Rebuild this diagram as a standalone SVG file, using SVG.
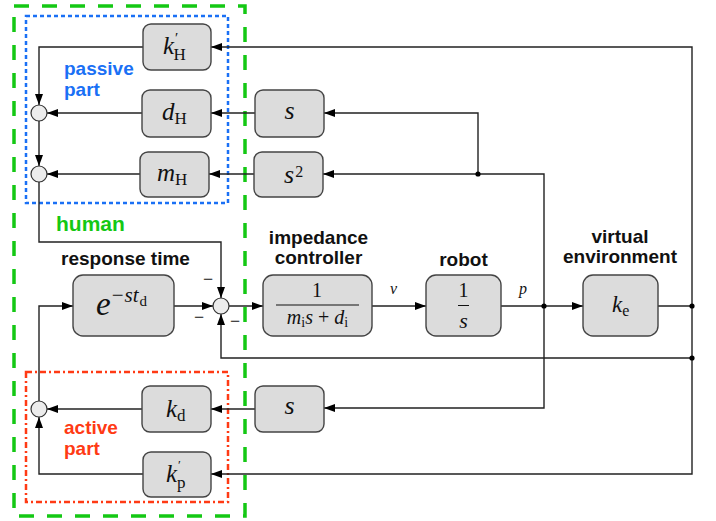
<svg xmlns="http://www.w3.org/2000/svg" width="716" height="521" viewBox="0 0 716 521">
  <defs>
    <marker id="arr" markerUnits="userSpaceOnUse" markerWidth="11" markerHeight="8" refX="11" refY="4" orient="auto">
      <path d="M0,0 L11,4 L0,8 z" fill="#000"/>
    </marker>
    <style>
      .blk { fill: #dcdcdc; stroke: #444; stroke-width: 1.4; }
      .sum { fill: #ececec; stroke: #333; stroke-width: 1.2; }
      .wire { fill: none; stroke: #222; stroke-width: 1.4; }
      .arrow { marker-end: url(#arr); }
      .dot { fill: #000; }
      .title { font-family: "Liberation Sans", Arial, sans-serif; font-weight: bold; font-size: 19px; fill: #111; text-anchor: middle; }
      .grp { font-family: "Liberation Sans", Arial, sans-serif; font-weight: bold; font-size: 19px; }
      .m { font-family: "Liberation Serif", "DejaVu Serif", serif; fill: #111; }
      .i { font-style: italic; }
      .frame-h { fill: none; stroke: #14c814; stroke-width: 3.5; stroke-dasharray: 15 13; }
      .frame-p { fill: none; stroke: #1a70f5; stroke-width: 2.5; stroke-dasharray: 4 3; }
      .frame-a { fill: none; stroke: #ff3a14; stroke-width: 2.5; stroke-dasharray: 6 3 2 3; }
    </style>
  </defs>

  <rect width="716" height="521" fill="#fff"/>

  <!-- grouping frames -->
  <g id="frames">
    <rect class="frame-h" x="14" y="6" width="231" height="510"/>
    <rect class="frame-p" x="26" y="16" width="202" height="187"/>
    <rect class="frame-a" x="26" y="372" width="202" height="130"/>
    <text class="grp" x="56" y="231" fill="#14c814" style="font-size:21px">human</text>
    <text class="grp" x="64" y="75" fill="#1a70f5">passive</text>
    <text class="grp" x="64" y="96" fill="#1a70f5">part</text>
    <text class="grp" x="64" y="434" fill="#ff3a14">active</text>
    <text class="grp" x="64" y="455" fill="#ff3a14">part</text>
  </g>

  <!-- connectors -->
  <g id="connectors">
    <path class="wire arrow" d="M692,306 V47 H211"/>
    <path class="wire arrow" d="M692,306 V474 H211"/>
    <path class="wire arrow" d="M143,47 H39 V105"/>
    <path class="wire arrow" d="M142,113 H47"/>
    <path class="wire arrow" d="M255,113 H211"/>
    <path class="wire arrow" d="M478,174 V113 H324"/>
    <path class="wire arrow" d="M544,306 V174 H323"/>
    <path class="wire arrow" d="M254,174 H209"/>
    <path class="wire arrow" d="M140,174 H47"/>
    <path class="wire arrow" d="M39,121 V166"/>
    <path class="wire arrow" d="M39,182 V242 H221 V298"/>
    <path class="wire arrow" d="M39,401 V306 H73"/>
    <path class="wire arrow" d="M174,306 H213"/>
    <path class="wire arrow" d="M229,306 H263"/>
    <path class="wire arrow" d="M372,306 H426"/>
    <path class="wire arrow" d="M501,306 H583"/>
    <path class="wire" d="M658,306 H692"/>
    <path class="wire arrow" d="M692,358 H221 V314"/>
    <path class="wire arrow" d="M544,306 V408 H324"/>
    <path class="wire arrow" d="M255,409 H211"/>
    <path class="wire arrow" d="M142,409 H47"/>
    <path class="wire arrow" d="M143,474 H39 V417"/>
    <circle class="dot" cx="478" cy="174" r="2.6"/>
    <circle class="dot" cx="544" cy="306" r="2.6"/>
    <circle class="dot" cx="692" cy="306" r="2.6"/>
    <circle class="dot" cx="692" cy="358" r="2.6"/>
    <text class="m i" x="390" y="294" font-size="16">v</text>
    <text class="m i" x="519" y="294" font-size="16">p</text>
  </g>

  <!-- summing junctions -->
  <g id="sum1"><circle class="sum" cx="39" cy="113" r="8"/></g>
  <g id="sum2"><circle class="sum" cx="39" cy="174" r="8"/></g>
  <g id="sum3"><circle class="sum" cx="39" cy="409" r="8"/></g>
  <g id="sum-main">
    <circle class="sum" cx="221" cy="306" r="8"/>
    <text class="m" x="203" y="285" font-size="18">−</text>
    <text class="m" x="194" y="323" font-size="18">−</text>
    <text class="m" x="230" y="327" font-size="18">−</text>
  </g>

  <!-- human passive part -->
  <g id="kH">
    <rect class="blk" x="143" y="24" width="68" height="46" rx="8"/>
    <text class="m" x="163" y="54" font-size="25"><tspan class="i">k</tspan><tspan font-size="15" dx="1" dy="-11">′</tspan><tspan font-size="17" dx="-5" dy="17">H</tspan></text>
  </g>
  <g id="dH">
    <rect class="blk" x="142" y="90" width="69" height="47" rx="8"/>
    <text class="m" x="162" y="120" font-size="25"><tspan class="i">d</tspan><tspan font-size="17" dy="4">H</tspan></text>
  </g>
  <g id="mH">
    <rect class="blk" x="140" y="152" width="69" height="45" rx="8"/>
    <text class="m" x="157" y="181" font-size="25"><tspan class="i">m</tspan><tspan font-size="17" dy="4">H</tspan></text>
  </g>
  <g id="s-vel">
    <rect class="blk" x="255" y="90" width="69" height="47" rx="8"/>
    <text class="m i" x="289.5" y="119" font-size="26" text-anchor="middle">s</text>
  </g>
  <g id="s-acc">
    <rect class="blk" x="254" y="152" width="69" height="45" rx="8"/>
    <text class="m" x="284" y="183" font-size="26"><tspan class="i">s</tspan><tspan font-size="16" dx="1" dy="-6">2</tspan></text>
  </g>

  <!-- main loop -->
  <g id="response-time">
    <text class="title" x="125.5" y="265">response time</text>
    <rect class="blk" x="73" y="275" width="101" height="61" rx="10"/>
    <text class="m" x="96" y="315" font-size="33"><tspan class="i">e</tspan><tspan font-size="21" dx="1" dy="-13">−</tspan><tspan class="i" font-size="21" dx="1">st</tspan><tspan font-size="15" dx="1" dy="4">d</tspan></text>
  </g>
  <g id="impedance-controller">
    <text class="title" x="318.5" y="244">impedance</text>
    <text class="title" x="318.5" y="264">controller</text>
    <rect class="blk" x="263" y="275" width="109" height="61" rx="10"/>
    <text class="m" x="317" y="297" font-size="20" text-anchor="middle">1</text>
    <line x1="276" y1="305" x2="359" y2="305" stroke="#111" stroke-width="1"/>
    <text class="m" x="317.5" y="324" font-size="20" text-anchor="middle"><tspan class="i">m</tspan><tspan font-size="14" dy="3">i</tspan><tspan class="i" dy="-3">s</tspan> + <tspan class="i">d</tspan><tspan font-size="14" dy="3">i</tspan></text>
  </g>
  <g id="robot">
    <text class="title" x="463.5" y="266">robot</text>
    <rect class="blk" x="426" y="275" width="75" height="61" rx="10"/>
    <text class="m" x="463.5" y="297" font-size="20" text-anchor="middle">1</text>
    <line x1="458" y1="305.5" x2="469" y2="305.5" stroke="#111" stroke-width="1"/>
    <text class="m i" x="463.5" y="328" font-size="22" text-anchor="middle">s</text>
  </g>
  <g id="virtual-environment">
    <text class="title" x="620" y="243">virtual</text>
    <text class="title" x="620" y="263">environment</text>
    <rect class="blk" x="583" y="275" width="75" height="61" rx="10"/>
    <text class="m" x="612" y="312" font-size="23"><tspan class="i">k</tspan><tspan font-size="16" dy="4">e</tspan></text>
  </g>

  <!-- human active part -->
  <g id="kd">
    <rect class="blk" x="142" y="386" width="69" height="46" rx="8"/>
    <text class="m" x="166" y="417" font-size="25"><tspan class="i">k</tspan><tspan font-size="17" dy="4">d</tspan></text>
  </g>
  <g id="s-feedback">
    <rect class="blk" x="255" y="386" width="69" height="46" rx="8"/>
    <text class="m i" x="289.5" y="414" font-size="26" text-anchor="middle">s</text>
  </g>
  <g id="kp">
    <rect class="blk" x="143" y="452" width="68" height="45" rx="8"/>
    <text class="m" x="166" y="482" font-size="25"><tspan class="i">k</tspan><tspan font-size="13" dx="1" dy="-13">′</tspan><tspan font-size="17" dx="-4" dy="19">p</tspan></text>
  </g>
</svg>
